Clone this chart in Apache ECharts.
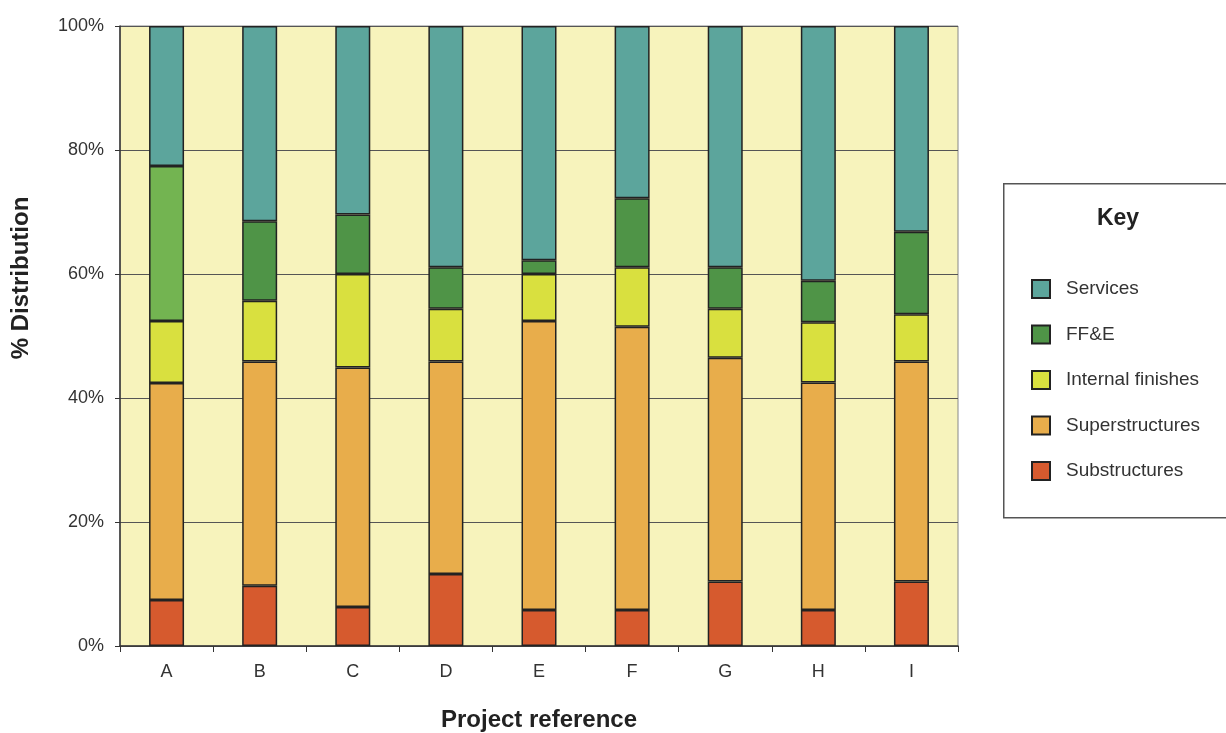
<!DOCTYPE html>
<html><head><meta charset="utf-8">
<script src="https://cdn.jsdelivr.net/npm/echarts@6/dist/echarts.min.js"></script>
<style>html,body{margin:0;padding:0;background:#fff;overflow:hidden}#c{width:1226px;height:733px}</style>
</head><body><div id="c"></div>
<script>
const categories = ['A','B','C','D','E','F','G','H','I'];
const substructures   = [7.4, 9.7, 6.3, 11.6, 5.8, 5.8, 10.4, 5.8, 10.4];
const superstructures = [35.0, 36.2, 38.6, 34.3, 46.6, 45.7, 36.1, 36.7, 35.5];
const internalFinishes= [10.0, 9.8, 15.1, 8.5, 7.6, 9.6, 7.9, 9.7, 7.6];
const ffe             = [25.0, 12.8, 9.6, 6.7, 2.2, 11.1, 6.7, 6.7, 13.3];
const services        = [22.6, 31.5, 30.4, 38.9, 37.8, 27.8, 38.9, 41.1, 33.2];
const yTicks = ['0%','20%','40%','60%','80%','100%'];

const FONT = '"Liberation Sans", Arial, Helvetica, sans-serif';
const chart = echarts.init(document.getElementById('c'), null, {renderer:'canvas'});
const border = {borderColor:'#222', borderWidth:1.5};
function s(name, data, color, perItem){
  return {
    name, type:'bar', stack:'total', barWidth:35,
    data: data.map((v,i)=> perItem && perItem[i] ? {value:v, itemStyle:{color:perItem[i]}} : v),
    itemStyle:Object.assign({color}, border),
    emphasis:{disabled:true}
  };
}
const ffeColors = ['#73b451'];
chart.setOption({
  animation:false,
  textStyle:{fontFamily:FONT},
  grid:{left:120, right:268, top:26, bottom:87, outerBoundsMode:'none', containLabel:false,
        show:true, backgroundColor:'#f7f3bc', borderColor:'#888', borderWidth:1},
  xAxis:{
    type:'category', data:categories,
    axisLine:{lineStyle:{color:'#333', width:1.5}},
    axisTick:{show:true, length:6, lineStyle:{color:'#333'}},
    axisLabel:{fontSize:18, color:'#333', margin:17, fontFamily:FONT},
    name:'Project reference', nameLocation:'middle', nameGap:62,
    nameTextStyle:{fontSize:24, fontWeight:'bold', color:'#222', fontFamily:FONT}
  },
  yAxis:{
    type:'value', min:0, max:100, interval:20,
    axisLine:{show:true, lineStyle:{color:'#333', width:1.5}},
    axisTick:{show:true, length:5, lineStyle:{color:'#333'}},
    splitLine:{lineStyle:{color:'#555', width:1}},
    axisLabel:{fontSize:18, color:'#333', margin:16, fontFamily:FONT, padding:[0,0,7,0],
      formatter:(v)=> yTicks[Math.round(v/20)]}
  },
  legend:{
    orient:'vertical', left:1031, top:279, padding:0,
    data:['Services','FF&E','Internal finishes','Superstructures','Substructures'],
    itemWidth:18, itemHeight:18, itemGap:25.5, icon:'rect',
    textStyle:{fontSize:19, lineHeight:18, color:'#333', fontFamily:FONT, padding:[0,0,0,11]},
    selectedMode:false
  },
  graphic:[
    {type:'rect', left:1003, top:183, shape:{width:240, height:334}, style:{fill:'#fff', stroke:'#555', lineWidth:1.5}, z:-1},
    {type:'text', x:1118, y:219, style:{text:'Key', fontSize:23, fontWeight:'bold', fill:'#222', fontFamily:FONT, align:'center', verticalAlign:'middle'}},
    {type:'text', x:21, y:278, rotation:Math.PI/2, style:{text:'% Distribution', fontSize:24, fontWeight:'bold', fill:'#222', fontFamily:FONT, align:'center', verticalAlign:'middle'}}
  ],
  series:[
    s('Substructures', substructures, '#d65a2e'),
    s('Superstructures', superstructures, '#e8ad4b'),
    s('Internal finishes', internalFinishes, '#d9e03f'),
    s('FF&E', ffe, '#4f9447', ffeColors),
    s('Services', services, '#5ca59c')
  ]
});
</script></body></html>
